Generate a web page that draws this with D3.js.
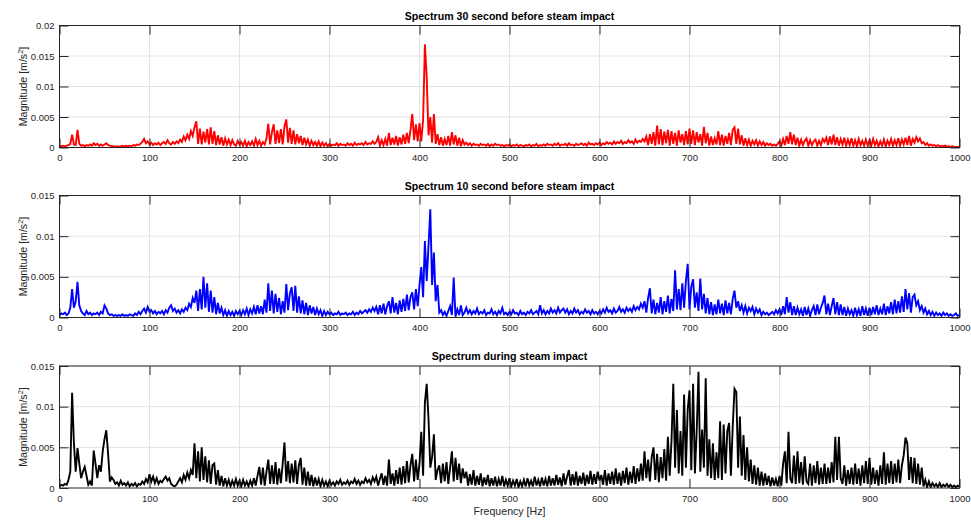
<!DOCTYPE html>
<html><head><meta charset="utf-8">
<script src="https://cdn.jsdelivr.net/npm/d3@7"></script>
<style>
body{margin:0;background:#fff}
svg{display:block}
text{font-family:Arial,"Liberation Sans",Helvetica,sans-serif}
</style>
</head><body>
<svg id="chart" width="971" height="521"></svg>
<script>
// Frequency axis: samples every 2 Hz from 0 to 1000 Hz
const freqStep = 2;
// Magnitudes below are in units of 1e-4 m/s^2
const unit = 1e-4;

const spectrum30sBefore = [
2,2,3,2,3,4,6,21,5,4,29,6,3,4,2,4,3,5,3,7,4,6,3,5,3,
5,7,4,3,2,2,1,2,1,2,3,2,3,2,3,2,4,3,5,4,6,9,14,7,10,
5,8,4,7,5,8,4,7,9,6,12,7,5,9,6,10,7,13,9,18,12,21,14,27,19,
33,43,6,31,5,26,8,30,5,33,6,27,4,20,5,17,3,15,5,13,4,12,5,3,11,
5,9,3,11,2,9,4,10,3,14,4,11,3,9,5,15,39,5,25,38,6,28,7,30,5,
35,46,8,32,6,28,5,22,7,19,4,16,5,13,3,11,4,9,3,10,2,8,3,7,2,
6,3,5,4,7,3,6,4,5,3,7,4,6,3,8,4,6,5,7,4,9,5,7,6,10,
6,9,17,3,12,4,14,3,24,4,16,5,19,3,17,5,21,6,24,7,29,55,12,38,10,
40,10,45,169,115,20,50,8,55,6,22,4,17,3,14,4,19,3,25,5,20,3,16,2,12,
5,8,4,7,3,6,4,5,3,6,4,5,3,6,2,5,3,6,4,5,3,4,2,4,3,
5,2,4,3,5,2,4,3,2,4,3,5,2,4,3,6,2,4,3,5,3,6,4,5,3,
6,4,7,3,5,4,6,3,7,4,5,3,6,4,5,7,4,6,3,8,5,6,4,7,5,
8,4,7,5,9,6,8,5,10,6,9,7,11,6,9,7,12,8,10,6,13,8,11,9,14,
10,18,4,22,6,25,3,36,5,30,4,26,7,29,3,27,6,24,3,28,8,22,4,27,5,
31,6,28,4,25,8,22,3,34,7,24,3,18,4,15,5,27,4,21,3,19,6,24,4,29,
33,6,31,5,20,3,15,4,13,3,11,5,12,3,10,4,9,3,7,4,6,3,5,3,6,
10,3,14,4,19,6,25,5,21,4,16,3,13,4,11,15,3,12,4,10,13,3,11,4,14,
9,16,4,18,5,21,4,17,3,14,5,16,3,13,4,15,3,12,2,14,4,11,3,13,3,
12,3,14,4,11,2,10,3,13,2,11,4,14,3,12,4,15,3,13,5,16,4,19,3,14,
8,17,10,15,7,9,4,7,3,5,3,4,2,4,2,3,2,3,1,2,1,2,1,1,1,
1];

const spectrum10sBefore = [
3,5,4,6,3,5,12,35,12,20,44,15,8,5,3,8,4,6,3,5,4,6,3,7,5,
15,11,5,3,4,2,3,2,3,2,4,2,3,2,4,3,2,5,3,7,4,8,11,6,13,
7,9,5,8,4,7,5,8,4,9,6,12,15,8,11,6,9,5,10,7,12,9,17,13,24,
18,33,8,35,10,50,12,42,7,33,6,25,4,18,5,12,3,9,2,8,3,7,2,8,4,
8,3,9,4,11,3,10,5,13,4,15,5,14,4,22,6,42,8,33,5,29,7,24,4,20,
6,41,9,30,37,8,39,6,26,5,21,4,18,3,15,5,13,3,11,4,9,2,8,3,7,
4,6,3,5,4,7,3,5,4,6,3,5,4,7,3,6,4,8,5,7,9,6,10,7,12,
8,13,4,15,5,17,4,14,20,5,25,6,18,4,21,7,23,8,28,9,25,31,10,35,14,
40,62,25,94,45,88,133,40,80,20,40,6,9,3,7,2,8,14,3,49,1,10,3,15,3,
6,12,5,9,4,8,5,11,4,7,5,9,3,6,5,10,4,7,3,8,5,12,4,6,3,
7,4,9,5,6,3,8,4,6,3,7,5,9,4,6,8,4,15,5,9,4,8,5,11,6,
9,5,12,6,9,11,6,10,4,8,5,11,6,9,4,7,5,10,6,8,4,9,5,7,4,
8,5,10,6,12,7,9,5,11,6,8,13,7,10,6,12,8,11,7,14,9,13,10,17,12,
20,6,24,36,5,22,4,18,6,25,4,20,7,27,5,23,8,58,10,35,9,42,12,45,66,
10,38,47,12,31,8,48,10,29,5,24,4,19,3,16,4,22,5,17,3,21,5,18,4,23,
33,12,20,8,15,6,14,5,12,8,13,4,11,6,10,3,7,4,6,3,5,7,4,9,5,
10,3,14,4,25,6,19,3,14,3,12,4,10,2,13,3,11,2,9,14,3,16,4,12,18,
27,4,17,3,14,24,4,19,3,16,3,13,2,11,4,9,2,12,3,10,2,14,3,11,2,
12,3,13,4,15,3,11,4,17,3,14,5,19,4,22,5,20,6,26,7,35,10,30,6,25,
28,15,20,9,14,6,11,4,8,3,7,2,6,3,5,2,6,3,5,2,4,2,3,5,2,
3];

const spectrumDuringImpact = [
2,4,3,5,4,10,20,117,55,20,49,30,12,20,26,15,4,8,3,46,30,12,28,20,45,
60,71,42,8,13,10,5,7,3,9,4,6,3,7,2,5,3,6,2,5,4,8,5,11,7,
17,8,14,6,12,5,9,7,11,14,9,12,5,3,2,4,8,12,7,16,10,19,12,22,16,
55,12,45,8,50,10,39,7,34,5,28,30,4,22,3,15,2,12,3,10,2,9,3,11,3,
9,2,10,3,8,2,9,3,12,3,15,26,4,25,3,20,35,5,28,5,32,4,24,6,30,
56,8,33,6,30,7,34,5,28,37,4,25,3,20,3,16,2,13,3,11,2,10,3,8,2,
9,4,7,3,8,5,10,4,7,5,9,4,8,6,11,5,9,4,8,6,12,7,10,5,13,
8,14,3,11,18,4,15,3,35,5,18,3,22,5,25,4,27,6,33,7,28,42,8,35,10,
30,69,15,105,128,85,25,38,66,10,22,28,6,30,8,32,5,25,45,8,37,10,30,6,24,
12,20,3,17,4,22,3,15,4,18,2,13,4,16,2,12,3,14,2,11,3,15,2,10,3,
12,2,9,3,11,1,8,2,10,2,12,3,9,2,14,3,10,2,13,3,11,2,15,3,12,
3,16,4,13,2,18,4,14,22,3,17,4,20,3,15,5,19,3,16,5,21,4,17,5,20,
9,16,4,22,3,18,5,20,4,24,5,19,3,21,6,25,4,20,6,27,5,24,8,30,9,
45,12,35,8,38,50,10,42,7,38,12,48,9,63,15,58,128,25,96,18,70,15,115,25,96,
120,22,128,18,70,143,20,72,25,135,15,60,12,55,10,44,12,82,10,78,18,70,80,15,75,
122,118,25,88,15,65,10,50,8,35,5,28,4,25,3,20,3,18,4,15,2,13,3,11,2,
15,3,30,45,6,69,12,6,40,5,45,6,32,4,39,8,5,30,3,28,6,33,4,25,5,
30,5,25,6,32,7,63,10,63,12,5,28,3,22,5,25,4,30,5,24,3,28,6,33,5,
37,4,25,5,22,3,28,5,44,4,30,6,33,5,30,7,35,6,28,40,62,55,10,38,6,
37,5,30,4,25,2,10,1,8,1,6,2,5,1,6,1,4,2,5,1,4,1,3,1,3,
2];

const panelTitles = [
  "Spectrum 30 second before steam impact",
  "Spectrum 10 second before steam impact",
  "Spectrum during steam impact"
];
const xTicks = [0,100,200,300,400,500,600,700,800,900,1000];
const yTicksTop = [0,0.005,0.01,0.015,0.02];
const yTicksLower = [0,0.005,0.01,0.015];
const yLabelText = "Magnitude [m/s";
const xLabelText = "Frequency [Hz]";

const panels = [
  {title: panelTitles[0], values: spectrum30sBefore, color: "#ff0000", yMax: 0.02, yTicks: yTicksTop, top: 25.5},
  {title: panelTitles[1], values: spectrum10sBefore, color: "#0000ff", yMax: 0.015, yTicks: yTicksLower, top: 195.5},
  {title: panelTitles[2], values: spectrumDuringImpact, color: "#000000", yMax: 0.015, yTicks: yTicksLower, top: 366}
];

const svg = d3.select("#chart");
const left = 59.5, right = 959.5, plotH = 122;
const axisColor = "#262626", gridColor = "#e3e3e3";
const x = d3.scaleLinear().domain([0, 1000]).range([left, right]);
const fmt = d3.format("~g");

panels.forEach((p, i) => {
  const top = p.top, bottom = top + plotH;
  const y = d3.scaleLinear().domain([0, p.yMax]).range([bottom, top]);
  const g = svg.append("g");

  // grid
  g.append("g").selectAll("line").data(xTicks.slice(1, -1)).join("line")
    .attr("x1", d => x(d)).attr("x2", d => x(d)).attr("y1", top).attr("y2", bottom)
    .attr("stroke", gridColor).attr("stroke-width", 1);
  g.append("g").selectAll("line").data(p.yTicks.slice(1)).join("line")
    .attr("x1", left).attr("x2", right).attr("y1", d => y(d)).attr("y2", d => y(d))
    .attr("stroke", gridColor).attr("stroke-width", 1);

  // data line
  const clipId = "clip" + i;
  svg.append("clipPath").attr("id", clipId).append("rect")
    .attr("x", left).attr("y", top - 1).attr("width", right - left).attr("height", plotH + 1);
  const line = d3.line().x((d, k) => x(k * freqStep)).y(d => y(d * unit));
  g.append("path").datum(p.values)
    .attr("clip-path", `url(#${clipId})`)
    .attr("fill", "none").attr("stroke", p.color).attr("stroke-width", 1.9)
    .attr("stroke-linejoin", "miter").attr("d", line);

  // axes (MATLAB-style inward ticks on all four sides)
  const axB = g.append("g").attr("transform", `translate(0,${bottom})`)
    .call(d3.axisBottom(x).tickValues(xTicks).tickSizeInner(-9).tickSizeOuter(0).tickPadding(7).tickFormat(fmt));
  const axT = g.append("g").attr("transform", `translate(0,${top})`)
    .call(d3.axisTop(x).tickValues(xTicks).tickSizeInner(-9).tickSizeOuter(0).tickFormat(""));
  const axL = g.append("g").attr("transform", `translate(${left},0)`)
    .call(d3.axisLeft(y).tickValues(p.yTicks).tickSizeInner(-9).tickSizeOuter(0).tickPadding(5).tickFormat(fmt));
  const axR = g.append("g").attr("transform", `translate(${right},0)`)
    .call(d3.axisRight(y).tickValues(p.yTicks).tickSizeInner(-9).tickSizeOuter(0).tickFormat(""));
  [axB, axT, axL, axR].forEach(a => {
    a.select(".domain").remove();
    a.selectAll("line").attr("stroke", axisColor);
    a.selectAll("text").attr("fill", axisColor).style("font-size", "9.5px")
      .style("font-family", 'Arial,"Liberation Sans",Helvetica,sans-serif');
  });

  // box
  g.append("rect").attr("x", left).attr("y", top).attr("width", right - left).attr("height", plotH)
    .attr("fill", "none").attr("stroke", axisColor).attr("stroke-width", 1);

  // title
  g.append("text").attr("x", (left + right) / 2).attr("y", top - 6)
    .attr("text-anchor", "middle").attr("fill", "#000").style("font-size", "10.6px")
    .style("font-weight", "bold").text(p.title);

  // y label
  const yl = g.append("text").attr("transform", `translate(27,${(top + bottom) / 2}) rotate(-90)`)
    .attr("text-anchor", "middle").attr("fill", axisColor).style("font-size", "10.6px");
  yl.append("tspan").text(yLabelText);
  yl.append("tspan").attr("dy", -4).style("font-size", "7.5px").text("2");
  yl.append("tspan").attr("dy", 4).text("]");

  if (i === panels.length - 1) {
    g.append("text").attr("x", (left + right) / 2).attr("y", 515)
      .attr("text-anchor", "middle").attr("fill", axisColor).style("font-size", "10.6px")
      .text(xLabelText);
  }
});
</script>
</body></html>
